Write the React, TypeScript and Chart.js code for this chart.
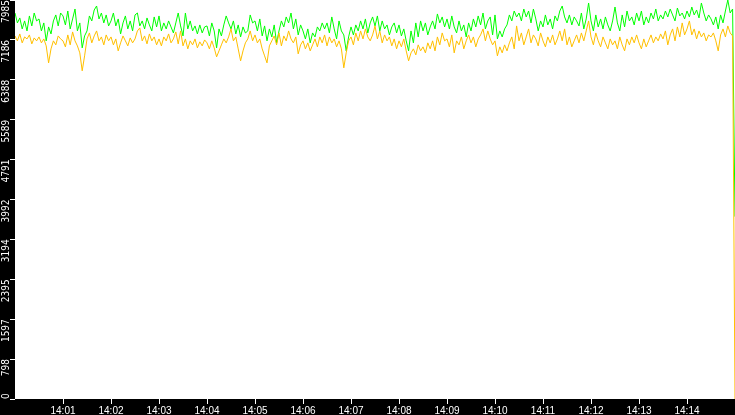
import React, { useEffect, useRef } from 'react';
import { Chart, registerables } from 'chart.js';

Chart.register(...registerables);

// one sample every 3 s from 14:00:00, last sample at 14:15:00
const SAMPLE_STEP = 3;

const greenValues = [
  7725, 7526, 7626, 7406, 7566, 7366, 7666, 7466, 7725, 7566,
  7606, 7366, 7526, 7167, 7446, 7306, 7566, 7686, 7466, 7725,
  7666, 7486, 7765, 7406, 7606, 7805, 7366, 7526, 7027, 7266,
  7366, 7666, 7566, 7785, 7865, 7606, 7725, 7526, 7686, 7466,
  7566, 7725, 7466, 7606, 7306, 7526, 7666, 7406, 7566, 7366,
  7686, 7725, 7466, 7566, 7406, 7626, 7486, 7366, 7646, 7446,
  7666, 7366, 7526, 7406, 7566, 7446, 7326, 7526, 7725, 7466,
  7266, 7725, 7406, 7566, 7366, 7466, 7306, 7486, 7326, 7446,
  7466, 7266, 7526, 7366, 7027, 7406, 7266, 7486, 7666, 7526,
  7406, 7566, 7306, 7486, 7246, 7446, 7326, 7366, 7686, 7526,
  7566, 7366, 7606, 7266, 7466, 7167, 7406, 7246, 7486, 7127,
  7366, 7566, 7446, 7646, 7526, 7725, 7406, 7606, 7286, 7486,
  7366, 7206, 7406, 7127, 7326, 7246, 7446, 7366, 7526, 7406,
  7526, 7326, 7646, 7406, 7206, 7566, 7366, 7286, 6967, 7246,
  7446, 7286, 7486, 7366, 7566, 7406, 7606, 7326, 7526, 7646,
  7466, 7666, 7366, 7566, 7406, 7486, 7286, 7446, 7526, 7326,
  7486, 7266, 7406, 7167, 6967, 7366, 7127, 7526, 7246, 7566,
  7366, 7526, 7286, 7446, 7566, 7406, 7706, 7526, 7646, 7446,
  7606, 7406, 7666, 7446, 7326, 7566, 7366, 7486, 7246, 7526,
  7366, 7606, 7446, 7666, 7486, 7725, 7406, 7566, 7646, 7286,
  7686, 7206, 7366, 7246, 7406, 7486, 7686, 7566, 7765, 7646,
  7725, 7566, 7805, 7646, 7765, 7526, 7805, 7606, 7366, 7566,
  7446, 7686, 7486, 7606, 7406, 7666, 7566, 7765, 7865, 7646,
  7526, 7686, 7486, 7646, 7566, 7466, 7725, 7406, 7606, 7925,
  7566, 7366, 7686, 7446, 7606, 7406, 7646, 7486, 7366, 7566,
  7845, 7526, 7366, 7686, 7446, 7765, 7566, 7646, 7486, 7725,
  7566, 7765, 7486, 7646, 7526, 7725, 7606, 7805, 7566, 7686,
  7606, 7765, 7646, 7805, 7686, 7566, 7825, 7666, 7725, 7606,
  7765, 7646, 7845, 7686, 7785, 7626, 7925, 7725, 7566, 7686,
  7606, 7486, 7646, 7406, 7686, 7526, 7765, 7985, 7725, 7805,
  3650,
];

const orangeValues = [
  7266, 7167, 7306, 7127, 7246, 7206, 7286, 7107, 7226, 7167,
  7246, 7127, 7206, 7067, 6727, 7007, 7167, 7087, 7266, 7206,
  7167, 7047, 7286, 7087, 7346, 7167, 7067, 6927, 6568, 6867,
  7206, 7326, 7127, 7266, 7366, 7167, 7246, 7087, 7286, 7167,
  7246, 7087, 7206, 6967, 7127, 7266, 7167, 7067, 7226, 7127,
  7206, 7366, 7426, 7167, 7266, 7107, 7306, 7167, 7246, 7087,
  7206, 7067, 7246, 7167, 7306, 7127, 7206, 7346, 7107, 7366,
  7067, 7206, 7007, 7167, 7087, 7206, 7027, 7147, 7067, 7186,
  7127, 7007, 7167, 7027, 6847, 6967, 7087, 7206, 7127, 7246,
  7406, 7167, 7246, 7007, 6767, 6967, 7127, 7206, 7366, 7167,
  7286, 7127, 7206, 7007, 6867, 6727, 7067, 7167, 7266, 7087,
  7326, 7067, 7266, 7167, 7366, 7206, 7127, 7246, 6907, 7087,
  7167, 7007, 7127, 6967, 7087, 7206, 7047, 7246, 7127, 7286,
  7067, 7246, 7127, 7206, 7047, 7167, 7007, 6627, 6927, 7167,
  7246, 7087, 7326, 7167, 7366, 7206, 7406, 7246, 7167, 7286,
  7466, 7206, 7366, 7127, 7286, 7167, 7246, 7067, 7206, 7007,
  7167, 7047, 7206, 6967, 6767, 6927, 7007, 6887, 7087, 6967,
  7047, 6927, 7127, 7007, 7167, 6967, 7246, 7087, 7326, 7167,
  7206, 7047, 7286, 6927, 7167, 7087, 7246, 7007, 7167, 7286,
  7127, 7246, 7047, 7206, 7286, 7406, 7167, 7366, 7206, 7087,
  7167, 6867, 7047, 6927, 7087, 6967, 7127, 7246, 7007, 7466,
  7167, 7326, 7087, 7246, 7406, 7127, 7286, 7206, 7067, 7326,
  7167, 7047, 7246, 7127, 7286, 7087, 7206, 7366, 7167, 7406,
  7087, 7246, 7047, 7167, 7286, 7127, 7326, 7167, 7366, 7566,
  7246, 7087, 7326, 7167, 7047, 7246, 7127, 7007, 7206, 7087,
  7167, 7007, 7246, 7087, 6967, 7206, 7087, 7246, 7127, 7286,
  7127, 7007, 7206, 7047, 7167, 7286, 7127, 7246, 7167, 7306,
  7206, 7366, 7087, 7286, 7406, 7167, 7446, 7246, 7526, 7286,
  7406, 7566, 7286, 7406, 7206, 7366, 7246, 7326, 7167, 7286,
  7246, 7326, 7167, 6967, 7286, 7406, 7246, 7466, 7326, 7266,
  0,
];

const yTicks = [0, 798, 1597, 2395, 3194, 3992, 4791, 5589, 6388, 7186, 7985];
const xTickLabels = [
  '14:01', '14:02', '14:03', '14:04', '14:05', '14:06', '14:07',
  '14:08', '14:09', '14:10', '14:11', '14:12', '14:13', '14:14',
];

const Y_FONT = { family: "'Liberation Sans Narrow', 'DejaVu Sans Condensed', sans-serif", size: 10 };
const Y_TICK_LENGTH = 5;
const Y_LABEL_PADDING = 4;

const toPoints = (values: number[]) =>
  values.map((y, i) => ({ x: i * SAMPLE_STEP, y }));

const background = {
  id: 'background',
  beforeDraw(chart: Chart) {
    const { ctx, chartArea, width, height } = chart;
    ctx.save();
    ctx.fillStyle = '#000';
    ctx.fillRect(0, 0, width, height);
    ctx.fillStyle = '#fff';
    ctx.fillRect(chartArea.left, chartArea.top, chartArea.right - chartArea.left, chartArea.bottom - chartArea.top);
    ctx.restore();
  },
};

// the bottom y label sits above its tick so it stays inside the axis strip
const bottomLabel = {
  id: 'bottomLabel',
  afterDraw(chart: Chart) {
    const { ctx } = chart;
    const scale: any = chart.scales.y;
    const y = scale.getPixelForValue(yTicks[0]);
    const x = scale.right - Y_TICK_LENGTH - Y_LABEL_PADDING;
    ctx.save();
    ctx.translate(x, y);
    ctx.rotate(-Math.PI / 2);
    ctx.font = `${Y_FONT.size}px ${Y_FONT.family}`;
    ctx.fillStyle = '#fff';
    ctx.textAlign = 'left';
    ctx.textBaseline = 'middle';
    ctx.fillText(String(yTicks[0]), 0, 0);
    ctx.restore();
  },
};

export default function App() {
  const chartRef = useRef<HTMLCanvasElement>(null);
  const chartInstance = useRef<Chart | null>(null);

  useEffect(() => {
    document.body.style.margin = '0';
    if (!chartRef.current) return;
    if (chartInstance.current) chartInstance.current.destroy();

    chartInstance.current = new Chart(chartRef.current, {
      type: 'line',
      data: {
        datasets: [
          {
            label: 'green',
            data: toPoints(greenValues),
            borderColor: '#00ff00',
            borderWidth: 1,
            pointRadius: 0,
            tension: 0,
            order: 1,
          },
          {
            label: 'orange',
            data: toPoints(orangeValues),
            borderColor: '#ffc000',
            borderWidth: 1,
            pointRadius: 0,
            tension: 0,
            order: 0,
          },
        ],
      },
      options: {
        responsive: false,
        animation: false,
        events: [],
        layout: { padding: 0, autoPadding: false },
        plugins: { legend: { display: false }, tooltip: { enabled: false } },
        scales: {
          x: {
            type: 'linear',
            min: 0,
            max: 900,
            afterBuildTicks: (scale: any) => {
              scale.ticks = xTickLabels.map((_, i) => ({ value: (i + 1) * 60 }));
            },
            afterFit: (scale: any) => {
              scale.height = 16;
              scale.paddingLeft = 0;
              scale.paddingRight = 0;
            },
            grid: { drawOnChartArea: false, drawTicks: true, tickLength: 5, color: '#fff', lineWidth: 1 },
            border: { display: false },
            ticks: {
              autoSkip: false,
              maxRotation: 0,
              padding: 1,
              color: '#fff',
              font: { family: "'Liberation Sans', Arial, sans-serif", size: 10 },
              callback: (_v: any, i: number) => xTickLabels[i],
            },
          },
          y: {
            type: 'linear',
            min: 0,
            max: 7985,
            afterBuildTicks: (scale: any) => {
              scale.ticks = yTicks.map((value) => ({ value }));
            },
            afterFit: (scale: any) => {
              scale.width = 15;
              scale.paddingTop = 0;
              scale.paddingBottom = 0;
            },
            grid: { drawOnChartArea: false, drawTicks: true, tickLength: Y_TICK_LENGTH, color: '#fff', lineWidth: 1 },
            border: { display: false },
            ticks: {
              autoSkip: false,
              minRotation: 90,
              maxRotation: 90,
              padding: Y_LABEL_PADDING,
              color: '#fff',
              font: Y_FONT,
              callback: (v: any) => (v === yTicks[0] ? '' : String(v)),
            },
          },
        },
      },
      plugins: [background, bottomLabel],
    });

    return () => {
      if (chartInstance.current) {
        chartInstance.current.destroy();
        chartInstance.current = null;
      }
    };
  }, []);

  return (
    <div style={{ width: 735, height: 415, background: '#000' }}>
      <canvas ref={chartRef} width={735} height={415} style={{ display: 'block' }} />
    </div>
  );
}
